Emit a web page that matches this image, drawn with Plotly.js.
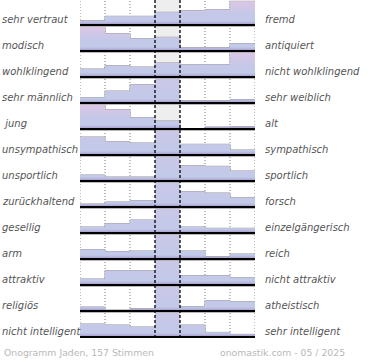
<!DOCTYPE html>
<html><head><meta charset="utf-8">
<script src="https://cdn.plot.ly/plotly-3.0.1.min.js"></script>
<style>html,body{margin:0;padding:0;background:#fff}#chart{width:370px;height:360px}</style>
</head><body><div id="chart"></div>
<script>
// Onogramm "Jaden", 157 Stimmen – bar heights
// (unit: pixel-like share, 26 = one full row; values above 26 are clipped)
const leftLabels = ["sehr vertraut","modisch","wohlklingend","sehr männlich","\u00a0jung","unsympathisch","unsportlich","zurückhaltend","gesellig","arm","attraktiv","religiös","nicht intelligent"];
const rightLabels = ["fremd","antiquiert","nicht wohlklingend","sehr weiblich","alt","sympathisch","sportlich","forsch","einzelgängerisch","reich","nicht attraktiv","atheistisch","sehr intelligent"];
const vertraut     = [4.4, 8.7, 8.7, 12.7, 14.4, 15.4, 23.7];
const modisch      = [25, 17.4, 12.4, 13.7, 3.4, 3.4, 7.4];
const wohlklingend = [8, 11.4, 10, 14, 12.4, 12.4, 24.4];
const maennlich    = [5.4, 12, 18.4, 30, 2.4, 2.4, 3.4];
const jung         = [24, 19.4, 11.4, 8, 0, 2, 2.4];
const unsympathisch= [18, 13.4, 12, 30, 10.7, 10.7, 5];
const unsportlich  = [6, 4, 4, 30, 15.4, 14.7, 10];
const zurueck      = [3, 5, 6.4, 30, 15.4, 14, 9.4];
const gesellig     = [6, 9.4, 13, 30, 6, 4.7, 4.7];
const arm          = [9.4, 7.4, 8, 30, 8, 2.4, 5];
const attraktiv    = [6, 14.4, 14.4, 30, 9.4, 9.4, 7.4];
const religioes    = [4, 1, 2.4, 30, 4.4, 10.4, 9.4];
const intelligent  = [13, 12, 10, 30, 12, 4.6, 2.6];
const rows = [vertraut, modisch, wohlklingend, maennlich, jung, unsympathisch, unsportlich, zurueck, gesellig, arm, attraktiv, religioes, intelligent];
const footerLeft = "Onogramm Jaden, 157 Stimmen";
const footerRight = "onomastik.com - 05 / 2025";

const FULL = 26;
const nRows = rows.length;
const traces = [];
const shapes = [];
const annotations = [];

// background of neutral column
shapes.push({type:'rect', xref:'x', yref:'paper', x0:3, x1:4, y0:0, y1:1, fillcolor:'#eeeeee', line:{width:0}, layer:'below'});
[0,1,2,5,6,7].forEach(x => shapes.push({type:'line', xref:'x', yref:'paper', x0:x, x1:x, y0:0, y1:1, line:{color:'#7a7a7a', width:1, dash:'1px,2px'}, layer:'below'}));

const outX = [], outY = [], outB = [];
const clipX = [], clipY = [], clipB = [];
rows.forEach((vals, i) => {
  const base = nRows - 1 - i;
  const clipped = vals.some(v => v > FULL);
  const S = clipped ? 2.4 * FULL : 24;
  const cs = [
    [0, '#9d92c6'],
    [2.5 / S, '#b9b8df'],
    [4 / S, '#c2cae9'],
    [Math.min(0.99, 12 / S), '#c5c8e8'],
    [1, '#ddc6e5']
  ];
  const xs = [0], ys = [base];
  vals.forEach((v, k) => {
    const h = Math.min(v, FULL) / FULL;
    xs.push(k, k + 1); ys.push(base + h, base + h);
    if (v > FULL) { clipX.push(k + 0.5); clipY.push(1); clipB.push(base); }
    else { outX.push(k + 0.5); outY.push(v / FULL); outB.push(base); }
  });
  xs.push(7); ys.push(base);
  traces.push({type:'scatter', mode:'none', x:xs, y:ys, fill:'toself',
    fillgradient:{type:'vertical', start:base, stop:base + S / FULL, colorscale:cs},
    hoverinfo:'skip', showlegend:false});
  shapes.push({type:'line', xref:'x', yref:'y', x0:0, x1:7.03, y0:base - 0.055, y1:base - 0.055, line:{color:'#b0b0b0', width:1}, layer:'above'});
  shapes.push({type:'line', xref:'x', yref:'y', x0:0, x1:7, y0:base, y1:base, line:{color:'#000', width:2}, layer:'above'});
  annotations.push({xref:'paper', yref:'y', x:-80/175, y:base + 0.2, xanchor:'left', yanchor:'middle', showarrow:false,
    text:'<i>' + leftLabels[i] + '</i>', font:{family:'DejaVu Sans', size:10, color:'#555'}});
  annotations.push({xref:'paper', yref:'y', x:183/175, y:base + 0.2, xanchor:'left', yanchor:'middle', showarrow:false,
    text:'<i>' + rightLabels[i] + '</i>', font:{family:'DejaVu Sans', size:10, color:'#555'}});
});
traces.push({type:'bar', x:clipX, y:clipY, base:clipB, width:1, marker:{color:'#c3cdea', line:{width:0}}, hoverinfo:'skip', showlegend:false});
traces.push({type:'bar', x:outX, y:outY, base:outB, width:1, marker:{color:'rgba(0,0,0,0)', line:{color:'#9a9a9a', width:1}}, hoverinfo:'skip', showlegend:false});
[3,4].forEach(x => shapes.push({type:'line', xref:'x', yref:'paper', x0:x, x1:x, y0:0, y1:1, line:{color:'#000', width:1.3, dash:'3px,2px'}, layer:'above'}));

annotations.push({xref:'paper', yref:'paper', x:-78/175, y:-14/338, xanchor:'left', yanchor:'middle', showarrow:false,
  text:footerLeft, font:{family:'DejaVu Sans', size:9.3, color:'#b8b8b8'}});
annotations.push({xref:'paper', yref:'paper', x:267/175, y:-14/338, xanchor:'right', yanchor:'middle', showarrow:false,
  text:footerRight, font:{family:'DejaVu Sans', size:9.3, color:'#b8b8b8'}});

const layout = {
  width:370, height:360,
  margin:{l:80, r:115, t:0, b:22, pad:0},
  paper_bgcolor:'#fff', plot_bgcolor:'#fff',
  barmode:'overlay',
  showlegend:false,
  xaxis:{range:[0,7], showgrid:false, zeroline:false, showticklabels:false, ticks:'', fixedrange:true},
  yaxis:{range:[-0.04, 12.96], showgrid:false, zeroline:false, showticklabels:false, ticks:'', fixedrange:true},
  shapes:shapes, annotations:annotations
};
Plotly.newPlot('chart', traces, layout, {staticPlot:true, displayModeBar:false});
</script></body></html>
